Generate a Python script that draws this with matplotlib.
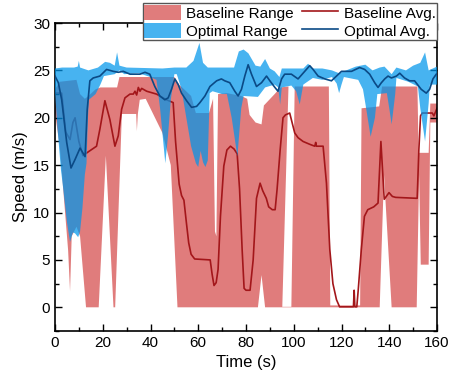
import numpy as np
import matplotlib
matplotlib.use("Agg")
import matplotlib.pyplot as plt
from matplotlib.patches import Patch
from matplotlib.lines import Line2D
from matplotlib.ticker import MultipleLocator

plt.rcParams['font.family'] = ['Liberation Sans', 'DejaVu Sans']

# ---------------- data ----------------
# Baseline range: upper edge (traced left to right; the edge may dip down to close a gap)
base_up_t = [0, 2, 9, 10.5, 12.5, 14, 17, 19, 26, 27, 50, 52, 57, 59, 64.5, 66.2, 67.0, 67.6, 68.3,
             72, 78, 80.5, 81.5, 84, 86.5, 87.5, 92, 94.5, 97.8, 95.2, 99.0, 100.4, 114.7, 115.3,
             127.8, 128.4, 135.8, 137, 151.8, 152.3, 156.5, 157.2, 160]
base_up_v = [23.0, 23.8, 24.0, 22.5, 22.0, 22.3, 23.0, 23.2, 23.2, 24.3, 24.3, 23.5, 22.3, 20.5, 20.5,
             22.0, 8.0, 7.5, 22.5, 22.6, 22.3, 22.0, 20.3, 19.5, 19.3, 21.3, 22.5, 23.2, 23.3, 0.05,
             0.05, 23.3, 23.3, 0.2, 0.2, 21.0, 21.2, 23.3, 23.3, 16.3, 16.3, 21.5, 21.5]
# Baseline range: lower edge
base_lo_t = [0, 2, 5.5, 6.3, 7.0, 9, 10.5, 13, 18.3, 21.3, 24.5, 25.2, 28, 34.0, 34.3, 34.7, 35.5, 38,
             45, 48.5, 51.3, 85, 86.5, 88, 115.3, 127.8, 136, 137.8, 141, 151.5,
             152.5, 153.2, 156.5, 157.2, 160]
base_lo_v = [20.5, 17, 6, 1.7, 7.5, 8.5, 7.5, 0, 0, 16, 0, 0, 20.4, 20.4, 18.6, 20.4, 21.9, 22.0,
             18.4, 15, 0, 0, 3.4, 0, 0, 0, 0, 14, 0, 0,
             14, 4.5, 4.5, 19.5, 19.5]
# Baseline average
base_avg_t = [0, 2.8, 4.5, 6.3, 7.5, 8.4, 10, 11.7, 13.9, 17.4, 18.8, 20.9, 23, 25.1, 26.5, 27.9, 29.3,
              31.4, 32.8, 33.5, 34.2, 34.9, 35.6, 36.3, 38.4, 42.5, 46.7, 49.5, 50.5, 52, 53, 54, 55,
              56, 57, 58.5, 65, 65.8, 66.6, 67.5, 68.3, 69.3, 70.7, 72, 73.5, 75, 76.3, 77.3, 78.4,
              79.2, 80, 81.7, 83, 84.4, 85.9, 87, 88.5, 89.5, 91, 92.2, 93, 94.3, 95.5, 96.5, 98.3,
              99.7, 100.4, 101.8, 103.9, 106.7, 108.8, 109.2, 109.5, 112.3, 113.7, 115.1, 116.4,
              117.9, 119.2, 125, 125.3, 125.6, 126.4, 127, 128.3, 129.6, 131, 133.5, 135.3, 136.5,
              137.9, 139.9, 141.3, 142.7, 151.7, 152.4, 153.1, 153.8, 158, 158.7, 160]
base_avg_v = [22.6, 22.6, 18.5, 17.7, 19.5, 20.0, 17.5, 16.0, 16.4, 17.0, 18.8, 21.8, 19.8, 17.0, 18.1,
              20.9, 22.1, 22.5, 22.5, 22.8, 22.4, 23.2, 22.8, 23.1, 22.8, 22.5, 21.9, 21.6, 17.5,
              13.0, 11.8, 11.3, 9.0, 6.8, 5.6, 5.1, 5.0, 3.5, 2.3, 2.6, 4.0, 9.6, 14.9, 16.6, 17.0,
              16.7, 16.2, 12.5, 6.0, 2.0, 1.8, 1.8, 5.0, 11.5, 13.1, 12.3, 11.5, 10.6, 10.3, 10.3,
              12.4, 16.6, 20.0, 20.3, 20.5, 19.1, 18.4, 17.9, 17.5, 17.2, 17.0, 17.4, 17.0, 17.0,
              13.1, 6.1, 2.5, 0.8, 0.05, 0.05, 1.8, 0.05, 0.05, 1.8, 6.1, 9.6, 10.3, 10.6, 11.0,
              17.5, 11.4, 12.1, 11.7, 11.6, 11.5, 16.6, 20.2, 20.5, 20.5, 20.2, 21.0]

# Optimal range: upper edge
opt_up_t = [0, 3, 8, 9.5, 10, 10.5, 14, 18, 21, 23, 25, 26, 27, 30, 45, 50, 55, 58, 60.5, 62, 64, 75,
            77, 79, 81, 84, 86, 88, 90, 92, 94, 95, 104, 106, 108, 112, 116, 119, 122, 126, 130, 133,
            136, 138, 141, 143, 147, 150, 153, 155, 156.5, 160]
opt_up_v = [25.2, 25.3, 25.3, 25.4, 26.0, 25.3, 25.0, 25.3, 25.9, 25.8, 25.5, 26.9, 25.5, 25.3, 25.2,
            25.3, 25.3, 26.0, 27.9, 25.8, 25.3, 25.3, 27.0, 27.2, 26.8, 25.5, 25.4, 26.2, 25.2, 24.9,
            24.3, 25.2, 25.2, 25.7, 25.2, 25.2, 25.0, 24.7, 25.0, 25.4, 25.6, 25.0, 25.3, 25.4, 24.6,
            25.3, 25.0, 25.5, 25.8, 26.9, 25.0, 25.4]
# Optimal range: lower edge
opt_lo_t = [0, 1, 2.5, 3.5, 5, 6.3, 7.5, 8.4, 9.7, 10.5, 11.5, 12.5, 13.2, 13.8, 14.2, 17, 19, 20.5, 25,
            27, 29, 35, 40, 42.5, 44, 46.2, 47.3, 48.5, 50, 51, 53, 55, 57, 59, 60, 61, 62, 63, 64,
            64.8, 66, 70, 72, 74, 76.4, 78, 79, 85, 88, 92, 93.5, 94.3, 95, 99, 101, 102.5, 104, 108,
            112, 116, 118, 119, 120, 121, 127, 129, 130, 132.2, 134, 135, 139, 140, 141, 142.5, 143,
            148, 152, 153, 155, 156.5, 157, 160]
opt_lo_v = [22.7, 19, 14.5, 12.4, 9, 6.9, 7.9, 7.8, 7.4, 8, 10.5, 14, 15.2, 20, 21.9, 22.5, 23.5, 24.4,
            24.6, 25.0, 24.6, 24.7, 24.3, 24.0, 21.0, 15.2, 18.0, 21.9, 24.6, 24.6, 23.0, 20.0, 17.0,
            15.2, 14.8, 16.5, 15.3, 14.8, 15.5, 22.6, 22.8, 22.5, 22.5, 20.0, 15.9, 21.0, 22.3, 22.2,
            23.2, 23.5, 23.2, 21.4, 23.2, 23.4, 22.8, 21.4, 23.5, 24.2, 24.0, 24.3, 23.6, 22.6, 23.5,
            24.3, 24.0, 23.0, 21.5, 18.0, 20.0, 22.5, 22.6, 21.0, 19.3, 22.5, 24.2, 23.8, 23.3, 21.0,
            17.5, 21.5, 23.5, 23.5]
# Optimal average
opt_avg_t = [0, 1.4, 2.8, 4.9, 6.7, 8.4, 10.5, 12.6, 13.5, 14.6, 16, 18.8, 21.6, 24.4, 26.5, 28.6, 31.4,
             35.6, 37.7, 39.7, 41.8, 43.9, 46, 47.4, 48.8, 50.2, 51.6, 53, 55.1, 57.2, 59.3, 60.7,
             62.8, 64.9, 67.7, 69.7, 71.1, 73.2, 75.3, 76.7, 78.1, 79.5, 80.9, 82.3, 84.4, 86.5,
             88.6, 90, 92.1, 93.4, 94.9, 96.2, 99, 101.8, 104.6, 106.7, 108.1, 110.2, 113, 115.8,
             117.9, 120, 122.1, 124.2, 127.6, 129.7, 131.8, 133.9, 135.3, 136.7, 138.1, 139.5,
             140.9, 143, 144.4, 146.4, 148.5, 150.6, 153.4, 155.5, 156.9, 158.3, 159.7]
opt_avg_v = [24.4, 23.7, 21.9, 17.4, 14.7, 15.6, 16.8, 15.9, 20.9, 23.9, 24.2, 24.4, 25.1, 24.9, 24.8,
             24.9, 24.6, 24.6, 24.8, 24.6, 23.3, 22.3, 21.9, 22.1, 23.0, 24.1, 23.5, 22.6, 21.8,
             21.1, 21.2, 21.6, 22.3, 23.3, 23.9, 24.1, 23.9, 23.7, 22.8, 22.3, 23.0, 24.4, 25.6,
             24.6, 23.3, 23.7, 24.4, 23.9, 23.2, 22.8, 24.1, 24.6, 24.6, 24.1, 24.9, 25.5, 25.1,
             24.4, 24.1, 23.9, 24.4, 24.9, 24.9, 24.9, 25.3, 25.1, 24.6, 23.7, 23.2, 23.7, 24.1,
             24.4, 24.2, 24.4, 24.7, 24.2, 23.9, 23.9, 23.0, 22.6, 23.0, 24.1, 24.6]

legend_labels = ["Baseline Range", "Optimal Range", "Baseline Avg.", "Optimal Avg."]

# ---------------- styles ----------------
red_fill = "#E07C7C"
blue_fill = (0.0, 0.59, 0.92)
blue_alpha = 0.72
red_line = "#A3161A"
blue_line = "#0B4A86"

fig = plt.figure(figsize=(4.5, 3.78), dpi=100)
ax = fig.add_axes([55 / 450, 1 - 331 / 378, (437 - 55) / 450, (331 - 23) / 378])


def band(ax, t_up, v_up, t_lo, v_lo, **kw):
    xs = np.concatenate([np.asarray(t_up, float), np.asarray(t_lo, float)[::-1]])
    ys = np.concatenate([np.asarray(v_up, float), np.asarray(v_lo, float)[::-1]])
    return ax.fill(xs, ys, **kw)


band(ax, base_up_t, base_up_v, base_lo_t, base_lo_v, color=red_fill, lw=0, zorder=1)
ax.plot(base_avg_t, base_avg_v, color=red_line, lw=1.2, zorder=2)
band(ax, opt_up_t, opt_up_v, opt_lo_t, opt_lo_v, color=blue_fill, alpha=blue_alpha, lw=0, zorder=3)
ax.plot(opt_avg_t, opt_avg_v, color=blue_line, lw=1.2, zorder=4)

ax.set_xlim(0, 160)
ax.set_ylim(-2.5, 30)
ax.xaxis.set_major_locator(MultipleLocator(20))
ax.xaxis.set_minor_locator(MultipleLocator(10))
ax.yaxis.set_major_locator(MultipleLocator(5))
ax.yaxis.set_minor_locator(MultipleLocator(2.5))
ax.tick_params(which='both', direction='in', top=True, right=True, labelsize=11, width=1.0)
ax.tick_params(which='major', length=5)
ax.tick_params(which='minor', length=3)
for s in ax.spines.values():
    s.set_linewidth(1.2)
ax.set_xlabel("Time (s)", fontsize=12)
ax.set_ylabel("Speed (m/s)", fontsize=12)

handles = [Patch(facecolor=red_fill, edgecolor='none'),
           Patch(facecolor=blue_fill, alpha=blue_alpha, edgecolor='none'),
           Line2D([], [], color=red_line, lw=1.2),
           Line2D([], [], color=blue_line, lw=1.2)]
leg = fig.legend(handles, legend_labels, ncol=2, loc='upper right',
                 bbox_to_anchor=(437 / 450, 1 - 3.3 / 378), bbox_transform=fig.transFigure,
                 borderaxespad=0, fontsize=11, handlelength=2.4, handleheight=1.15,
                 handletextpad=0.35, columnspacing=0.5, labelspacing=0.15, borderpad=0.1,
                 fancybox=False, framealpha=1, edgecolor='#555555')
leg.get_frame().set_linewidth(1.0)
leg.set_zorder(10)

fig.savefig("out.png", dpi=100)
